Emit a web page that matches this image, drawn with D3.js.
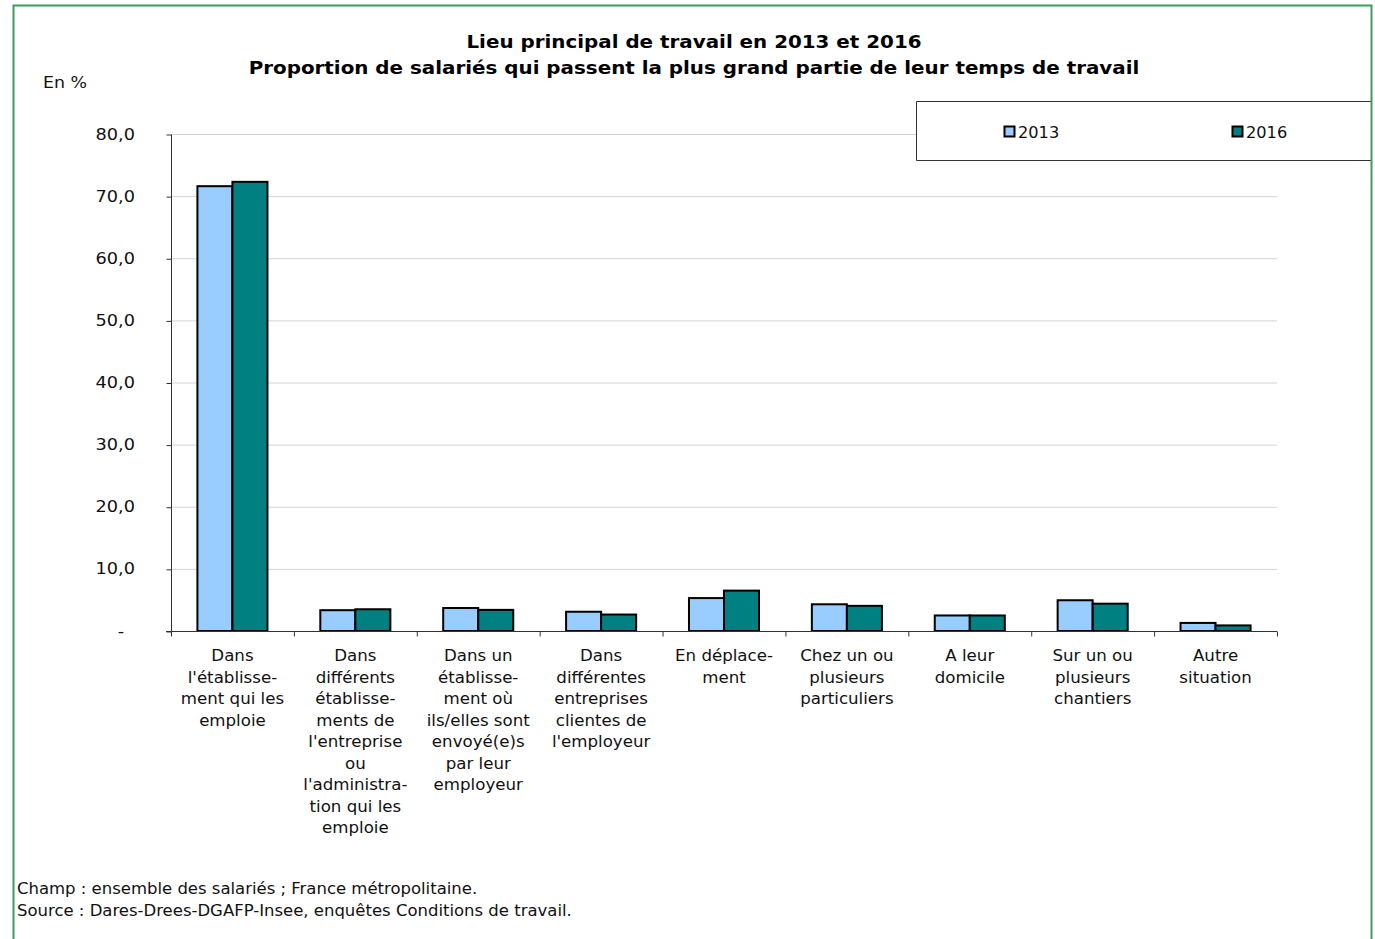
<!DOCTYPE html>
<html><head><meta charset="utf-8">
<script src="https://cdn.jsdelivr.net/npm/d3@7"></script>
<style>body{margin:0;background:#fff}svg{display:block}</style>
</head><body>
<script>
const categories = [
  ["Dans","l'établisse-","ment qui les","emploie"],
  ["Dans","différents","établisse-","ments de","l'entreprise","ou","l'administra-","tion qui les","emploie"],
  ["Dans un","établisse-","ment où","ils/elles sont","envoyé(e)s","par leur","employeur"],
  ["Dans","différentes","entreprises","clientes de","l'employeur"],
  ["En déplace-","ment"],
  ["Chez un ou","plusieurs","particuliers"],
  ["A leur","domicile"],
  ["Sur un ou","plusieurs","chantiers"],
  ["Autre","situation"]
];
const values2013 = [71.6, 3.35, 3.7, 3.1, 5.3, 4.3, 2.5, 4.95, 1.3];
const values2016 = [72.3, 3.5, 3.4, 2.65, 6.5, 4.05, 2.5, 4.4, 0.9];
const seriesNames = ["2013", "2016"];
const yTicks = [0, 10, 20, 30, 40, 50, 60, 70, 80];
const colors = ["#99ccff", "#008080"];

const W = 1375, H = 939;
const font = "'DejaVu Sans', Verdana, sans-serif";
const svg = d3.select("body").append("svg").attr("width", W).attr("height", H)
  .style("font-family", font);

// stretched text helper (reference text is horizontally wider)
function stext(parent, x, y, str, opts = {}) {
  const g = parent.append("g").attr("transform", `translate(${x},${y}) scale(${opts.sx || 1.12},1)`);
  return g.append("text").attr("x", 0).attr("y", 0)
    .attr("text-anchor", opts.anchor || "start")
    .attr("font-size", opts.size || 15)
    .attr("font-weight", opts.weight || "normal")
    .attr("fill", opts.fill || "#111").text(str);
}

const x0 = 171, x1 = 1277, yTop = 134, yBot = 631;
const x = d3.scaleBand().domain(d3.range(categories.length)).range([x0, x1]).paddingInner(0.43).paddingOuter(0.215);
const y = d3.scaleLinear().domain([0, 80]).range([yBot, yTop]);

// grid
svg.append("g").selectAll("line").data(yTicks.filter(d => d > 0)).join("line")
  .attr("x1", x0).attr("x2", x1).attr("y1", d => y(d) + 0.5).attr("y2", d => y(d) + 0.5)
  .attr("stroke", "#d4d4d4").attr("stroke-width", 1);

// y axis (ticks via d3 axis, labels drawn stretched)
const yAxis = d3.axisLeft(y).tickValues(yTicks).tickSize(5).tickFormat("");
const gy = svg.append("g").attr("transform", `translate(${x0 + 0.5},0.5)`).call(yAxis);
gy.select(".domain").attr("stroke", "#333").attr("d", `M0,${yTop}V${yBot + 4}`);
gy.selectAll(".tick line").attr("stroke", "#333");
const fmt = d => d === 0 ? "-" : d3.format(".1f")(d).replace(".", ",");
yTicks.forEach(t => {
  if (t === 0) stext(svg, 121, y(t) + 5.5, fmt(t), {anchor: "middle", sx: 1.18});
  else stext(svg, 135, y(t) + 5.5, fmt(t), {anchor: "end", sx: 1.18});
});

// bars
const sub = d3.scaleBand().domain([0, 1]).range([0, x.bandwidth()]);
const series = [values2013, values2016];
series.forEach((vals, s) => {
  svg.append("g").selectAll("rect").data(vals).join("rect")
    .attr("x", (d, i) => x(i) + sub(s))
    .attr("y", d => y(d))
    .attr("width", sub.bandwidth())
    .attr("height", d => y(0) - y(d))
    .attr("fill", colors[s]).attr("stroke", "#000").attr("stroke-width", 2);
});

// x axis
const xb = d3.scaleLinear().domain([0, categories.length]).range([x0, x1]);
const gx = svg.append("g").attr("transform", `translate(0,${yBot + 0.5})`);
gx.append("line").attr("x1", x0 - 5).attr("x2", x1).attr("stroke", "#333");
gx.selectAll("line.t").data(d3.range(categories.length + 1)).join("line").attr("class", "t")
  .attr("x1", d => xb(d) + 0.5).attr("x2", d => xb(d) + 0.5).attr("y1", 0).attr("y2", 5).attr("stroke", "#333");

categories.forEach((lines, i) => {
  const cx = x(i) + x.bandwidth() / 2;
  lines.forEach((l, k) => stext(svg, cx, 661 + k * 21.5, l, {anchor: "middle", sx: 1.11}));
});

// title
stext(svg, 694, 48, "Lieu principal de travail en 2013 et 2016", {anchor: "middle", size: 17.5, weight: "bold", fill: "#000", sx: 1.136});
stext(svg, 694, 74, "Proportion de salariés qui passent la plus grand partie de leur temps de travail", {anchor: "middle", size: 17.5, weight: "bold", fill: "#000", sx: 1.136});

stext(svg, 43, 88, "En %", {sx: 1.16});

// legend
svg.append("path").attr("d", "M1371,101.5H916.5V160.5H1371")
  .attr("fill", "#fff").attr("stroke", "#333");
const legX = [1004, 1232];
seriesNames.forEach((n, s) => {
  svg.append("rect").attr("x", legX[s] + 0.5).attr("y", 126.5).attr("width", 10).attr("height", 10)
    .attr("fill", colors[s]).attr("stroke", "#000").attr("stroke-width", 2);
  stext(svg, legX[s] + 14, 138, n, {sx: 1.08});
});

// frame
svg.append("rect").attr("x", 13.5).attr("y", 5.5).attr("width", 1358).attr("height", 960)
  .attr("fill", "none").attr("stroke", "#3c9b5f").attr("stroke-width", 2);

stext(svg, 17, 894, "Champ : ensemble des salariés ; France métropolitaine.", {sx: 1.10});
stext(svg, 17, 916, "Source : Dares-Drees-DGAFP-Insee, enquêtes Conditions de travail.", {sx: 1.10});
</script>
</body></html>
